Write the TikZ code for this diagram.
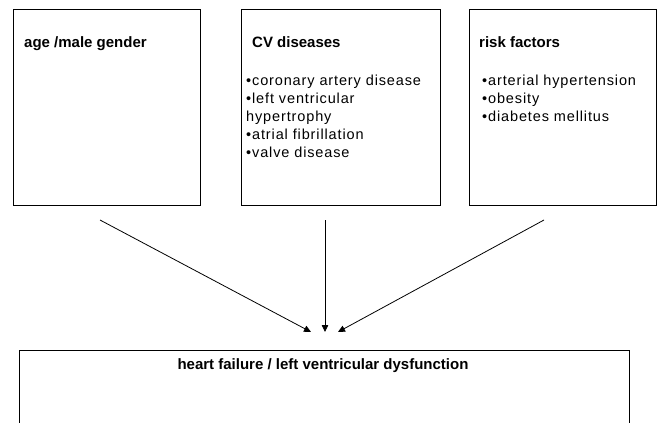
\documentclass[tikz,border=0pt]{standalone}
\usepackage{fontspec}
\setmainfont{Liberation Sans}
\usetikzlibrary{arrows.meta,positioning,calc}

\tikzset{
  box/.style={draw, line width=.8pt, outer sep=0pt, inner sep=0pt, anchor=north west},
  head/.style={anchor=base west, inner sep=0pt, font=\fontsize{15}{18}\selectfont\bfseries},
  item/.style={anchor=base west, inner sep=0pt, font=\fontsize{14.5}{18}\selectfont\addfontfeature{LetterSpace=6}},
  feed/.style={line width=.8pt, -{Triangle[length=7pt,width=6.5pt]}}
}
\newcommand{\dotitem}{\textbullet}

\begin{document}
\begin{tikzpicture}[x=1pt, y=-1pt]
\useasboundingbox (0,0) rectangle (657,423);
% the three causes
\node[box, minimum width=187pt, minimum height=196pt] (age) at (13,9) {};
\node[box, minimum width=199pt, minimum height=196pt] (cvd) at (241,9) {};
\node[box, minimum width=187pt, minimum height=196pt] (risk) at (469,9) {};
\node[head] (agehead) at (24,47) {age /male gender};
\node[head] (cvdhead) at (252,47) {CV diseases};
\node[head] (riskhead) at (479,47) {risk factors};
\foreach \txt [count=\i] in {\dotitem coronary artery disease, \dotitem left ventricular, hypertrophy, \dotitem atrial fibrillation, \dotitem valve disease}
  \node[item] (cvd\i) at (246,67+18*\i) {\txt};
\foreach \txt [count=\i] in {\dotitem arterial hypertension, \dotitem obesity, \dotitem diabetes mellitus}
  \node[item] (risk\i) at (482,67+18*\i) {\txt};

% the outcome
\node[box, minimum width=610pt, minimum height=100pt] (hf) at (19,350) {};
\node[head, anchor=base] (hfhead) at (323,369) {heart failure / left ventricular dysfunction};

\coordinate (agefrom) at (100,220);  \coordinate (ageto) at (311,332);
\coordinate (cvdfrom) at (325,220); \coordinate (cvdto) at (325,332);
\coordinate (riskfrom) at (544,220); \coordinate (riskto) at (338,332);
\foreach \n in {age,cvd,risk} \draw[feed] (\n from) -- (\n to);
\end{tikzpicture}
\end{document}
